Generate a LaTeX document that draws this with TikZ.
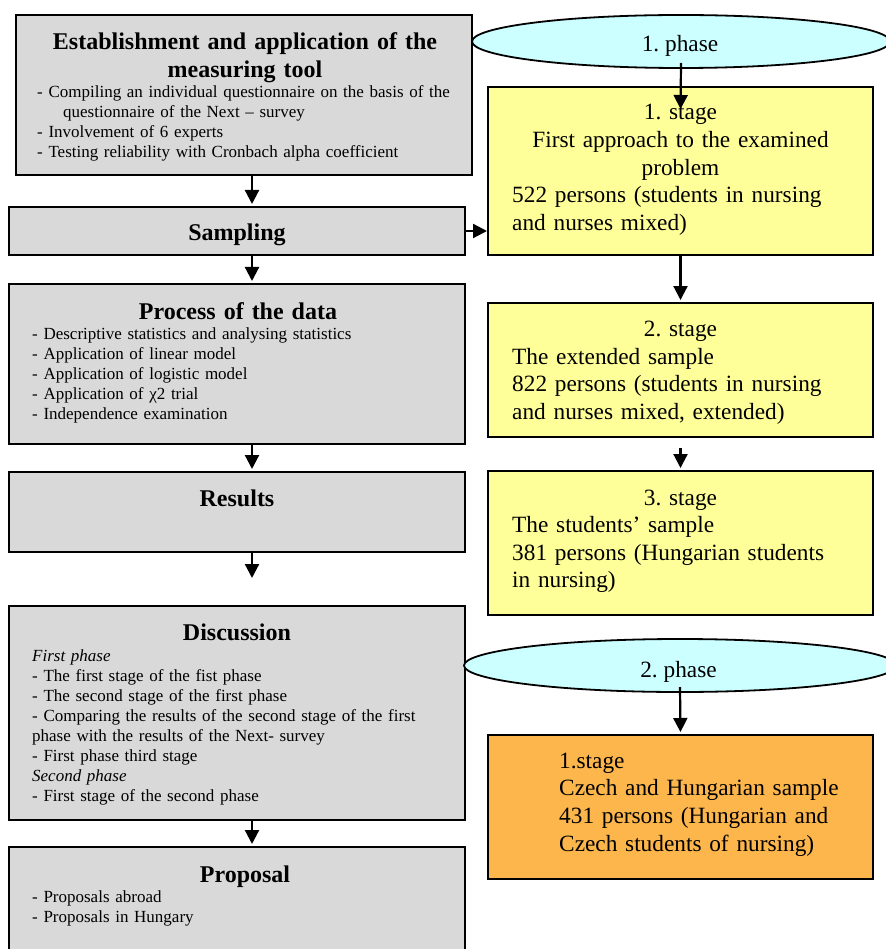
\documentclass[tikz,border=0pt]{standalone}
\usepackage{fontspec}
\setmainfont{Liberation Serif}
\usetikzlibrary{shapes.geometric,arrows.meta}
\definecolor{gris}{RGB}{217,217,217}
\definecolor{jaune}{RGB}{255,255,153}
\definecolor{ciel}{RGB}{204,255,255}
\definecolor{orangeclair}{RGB}{253,182,75}
\newcommand{\grand}{\fontsize{23.3}{27.6}\selectfont}
\newcommand{\gras}{\fontsize{24}{27.6}\selectfont\bfseries}
\newcommand{\petit}{\fontsize{17}{20}\selectfont}
\frenchspacing

\begin{document}
\begin{tikzpicture}[x=1pt,y=-1pt]
  \tikzstyle{lien}=[-{Triangle[length=14pt,width=14pt]},line width=2.2pt,shorten >=2pt]
\tikzset{bloc/.style={draw,line width=2pt,fill=#1,inner sep=0pt},
bloc/.default={gris},
phase/.style={ellipse,draw,line width=1.8pt,fill=ciel,inner sep=0pt,minimum height=53pt},
titre/.style={font=\gras,anchor=base,text width=440pt,align=center,inner sep=0pt},
liste/.style={font=\petit,anchor=base west,text width=430pt,align=left,inner sep=0pt},
centre/.style={font=\grand,anchor=base,text width=370pt,align=center,inner sep=0pt},
texte/.style={font=\grand,anchor=base west,text width=360pt,align=left,inner sep=0pt}}
\useasboundingbox (0,0) rectangle (885,949);

\node[bloc,minimum width=456pt,minimum height=160pt] (etab) at (244,95){};
\node[bloc,minimum width=456pt,minimum height=48pt] (samp) at (237,231){};
\node[bloc,minimum width=456pt,minimum height=160pt] (proc) at (237,364){};
\node[bloc,minimum width=456pt,minimum height=80pt] (res) at (237,512){};
\node[bloc,minimum width=456pt,minimum height=214pt] (disc) at (237,713){};
\node[bloc,minimum width=456pt,minimum height=130pt] (prop) at (237,912){};

\node[titre] (t1) at (245,50){Establishment and application of the\\measuring tool};
\node[liste] (l1) at (37,98){- Compiling an individual questionnaire on the basis of the\\\hspace*{26pt}questionnaire of the Next -- survey\\- Involvement of 6 experts\\- Testing reliability with Cronbach alpha coefficient};
\node[titre] (t2) at (237,241){Sampling};
\node[titre] (t3) at (238,319){Process of the data};
\node[liste] (l3) at (32,339){- Descriptive statistics and analysing statistics\\- Application of linear model\\- Application of logistic model\\- Application of χ2 trial\\- Independence examination};
\node[titre] (t4) at (237,506){Results};
\node[titre] (t5) at (237,640){Discussion};
\node[liste] (l5) at (32,661){\textit{First phase}\\- The first stage of the fist phase\\- The second stage of the first phase\\- Comparing the results of the second stage of the first\\phase with the results of the Next- survey\\- First phase third stage\\\textit{Second phase}\\- First stage of the second phase};
\node[titre] (t6) at (245,882){Proposal};
\node[liste] (l6) at (32,902){- Proposals abroad\\- Proposals in Hungary};

\node[phase,minimum width=418pt] (ph1) at (681,41.5){};
\node[bloc=jaune,minimum width=385pt,minimum height=168pt] (st1) at (680.5,171){};
\node[bloc=jaune,minimum width=385pt,minimum height=134pt] (st2) at (680.5,370){};
\node[bloc=jaune,minimum width=385pt,minimum height=144pt] (st3) at (680.5,543){};
\node[phase,minimum width=432pt] (ph2) at (680,665.5){};
\node[bloc=orangeclair,minimum width=385pt,minimum height=144pt] (cz1) at (680.5,807){};

\node[font=\grand,anchor=base] (e1) at (680,52){1. phase};
\node[font=\grand,anchor=base] (e2) at (678.5,677){2. phase};
\node[centre] (s1a) at (680.5,120){1. stage\\First approach to the examined\\problem};
\node[texte] (s1b) at (512,202.7){522 persons (students in nursing\\and nurses mixed)};
\node[centre] (s2a) at (680.5,336.7){2. stage};
\node[texte] (s2b) at (512,364.3){The extended sample\\822 persons (students in nursing\\and nurses mixed, extended)};
\node[centre] (s3a) at (680.5,505){3. stage};
\node[texte] (s3b) at (512,532.6){The students’ sample\\381 persons (Hungarian students\\in nursing)};
\node[texte] (c1) at (559,768.3){1.stage\\Czech and Hungarian sample\\431 persons (Hungarian and\\Czech students of nursing)};

\coordinate (axe) at (252,0);
\coordinate (fin) at (252,580);
\draw[lien] (etab.south -| axe) -- (samp.north -| axe);
\draw[lien] (samp.south -| axe) -- (proc.north -| axe);
\draw[lien] (proc.south -| axe) -- (res.north -| axe);
\draw[lien] (res.south -| axe) -- (fin);
\draw[lien] (disc.south -| axe) -- (prop.north -| axe);

\draw[lien,shorten >=0pt] (samp.east) -- (samp.east -| st1.west);
\draw[lien] ([yshift=-21.5pt]ph1.center) -- ([yshift=-25pt]st1.north);
\draw[lien] (st1.south) -- (st2.north);
\draw[lien,shorten <=10pt] (st2.south) -- (st3.north);
\draw[lien] ([yshift=-21.5pt]ph2.center) -- (cz1.north);

\end{tikzpicture}
\end{document}
